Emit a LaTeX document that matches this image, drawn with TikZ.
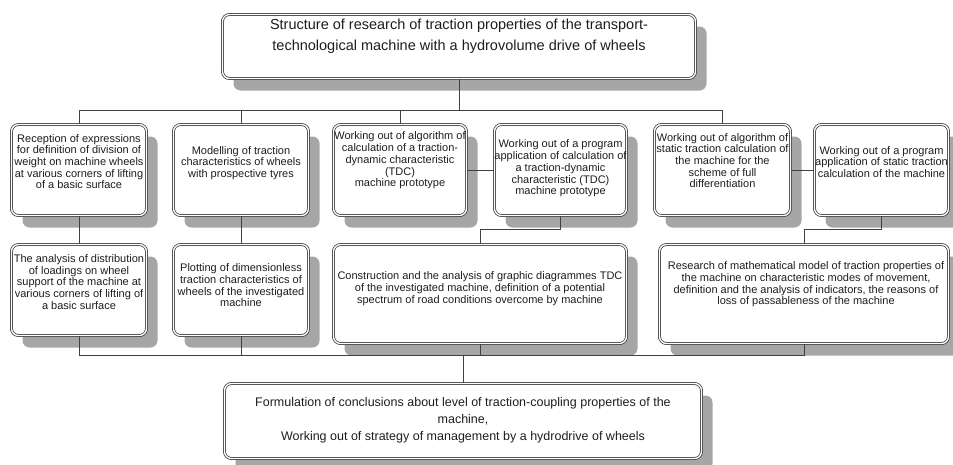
\documentclass[tikz,border=0pt]{standalone}
\usepackage{fontspec}
\setmainfont{Liberation Sans}
\usetikzlibrary{shadows}
\definecolor{shadowgray}{HTML}{A6A6A6}
\definecolor{linegray}{HTML}{404040}
\definecolor{txtgray}{HTML}{1E1E1E}
\tikzset{
  box/.style={draw=linegray, double=white, double distance=1.3pt, line width=0.8pt,
    rounded corners=7pt, fill=white, inner sep=0pt,
    general shadow={fill=shadowgray, shadow xshift=11pt, shadow yshift=-12pt}},
  txt/.style={align=center, inner sep=0pt, text=txtgray, font=\fontsize{11}{11.7}\selectfont},
  conn/.style={draw=linegray, line width=0.9pt}
}
\begin{document}
\begin{tikzpicture}[x=1pt,y=-1pt]
\useasboundingbox (0,0) rectangle (953,464);
% top
\node[box, minimum width=473pt, minimum height=64pt] (t) at (459,46.5) {};
\node[txt, font=\fontsize{14.5}{21.5}\selectfont] (tt) at (459,36)
  {Structure of research of traction properties of the transport-\\technological machine with a hydrovolume drive of wheels};
% row 1
\node[box, minimum width=135pt, minimum height=91pt] (b1) at (79,170) {};
\node[txt] (b1t) at (79,161.5)
  {Reception of expressions\\for definition of division of\\weight on machine wheels\\at various corners of lifting\\of a basic surface};
\node[box, minimum width=135pt, minimum height=91pt] (b2) at (241,170) {};
\node[txt] (b2t) at (241,163)
  {Modelling of traction\\characteristics of wheels\\with prospective tyres};
\node[box, minimum width=133pt, minimum height=91pt] (b3) at (400,170) {};
\node[txt] (b3t) at (400,160.5)
  {Working out of algorithm of\\calculation of a traction-\\dynamic characteristic\\(TDC)\\machine prototype};
\node[box, minimum width=132pt, minimum height=91pt] (b4) at (560.5,170) {};
\node[txt] (b4t) at (560.5,168.5)
  {Working out of a program\\application of calculation of\\a traction-dynamic\\characteristic (TDC)\\machine prototype};
\node[box, minimum width=136pt, minimum height=91pt] (b5) at (722.5,170) {};
\node[txt] (b5t) at (722.5,160.5)
  {Working out of algorithm of\\static traction calculation of\\the machine for the\\scheme of full\\differentiation};
\node[box, minimum width=134pt, minimum height=91pt] (b6) at (881.5,170) {};
\node[txt] (b6t) at (881.5,162)
  {Working out of a program\\application of static traction\\calculation of the machine};
% row 2
\node[box, minimum width=135pt, minimum height=91pt] (a1) at (79,290) {};
\node[txt] (a1t) at (79,282)
  {The analysis of distribution\\of loadings on wheel\\support of the machine at\\various corners of lifting of\\a basic surface};
\node[box, minimum width=135pt, minimum height=91pt] (a2) at (241,290) {};
\node[txt] (a2t) at (241,285.5)
  {Plotting of dimensionless\\traction characteristics of\\wheels of the investigated\\machine};
\node[box, minimum width=293pt, minimum height=99pt] (a3) at (480,294) {};
\node[txt] (a3t) at (480,288.5)
  {Construction and the analysis of graphic diagrammes TDC\\of the investigated machine, definition of a potential\\spectrum of road conditions overcome by machine};
\node[box, minimum width=289pt, minimum height=99pt] (a4) at (804,294) {};
\node[txt] (a4t) at (806,284.5)
  {Research of mathematical model of traction properties of\\the machine on characteristic modes of movement,\\definition and the analysis of indicators, the reasons of\\loss of passableness of the machine};
% bottom
\node[box, minimum width=477pt, minimum height=75pt] (f) at (463,421) {};
\node[txt, font=\fontsize{12.5}{17}\selectfont] (ft) at (463,420)
  {Formulation of conclusions about level of traction-coupling properties of the\\machine,\\Working out of strategy of management by a hydrodrive of wheels};
% connectors
\coordinate (busT) at (79,110);
\coordinate (busB) at (79,355);
\draw[conn] (t.south) -- (t.south |- busT);
\draw[conn] (b1.north) |- (b5.north |- busT) -- (b5.north);
\draw[conn] (b2.north) -- (b2.north |- busT);
\draw[conn] (b3.north) -- (b3.north |- busT);
\draw[conn] (b3.east) -- (b4.west);
\draw[conn] (b5.east) -- (b6.west);
\draw[conn] (b1.south) -- (a1.north);
\draw[conn] (b2.south) -- (a2.north);
\draw[conn] (b4.south) -- ++(0,14) coordinate (k4) -| (a3.north);
\draw[conn] (b6.south) -- ++(0,14) coordinate (k6) -| (a4.north);
\draw[conn] (a1.south) |- (a4.south |- busB) -- (a4.south);
\draw[conn] (a2.south) -- (a2.south |- busB);
\draw[conn] (a3.south) -- (a3.south |- busB);
\draw[conn] (f.north) -- (f.north |- busB);
\end{tikzpicture}
\end{document}
